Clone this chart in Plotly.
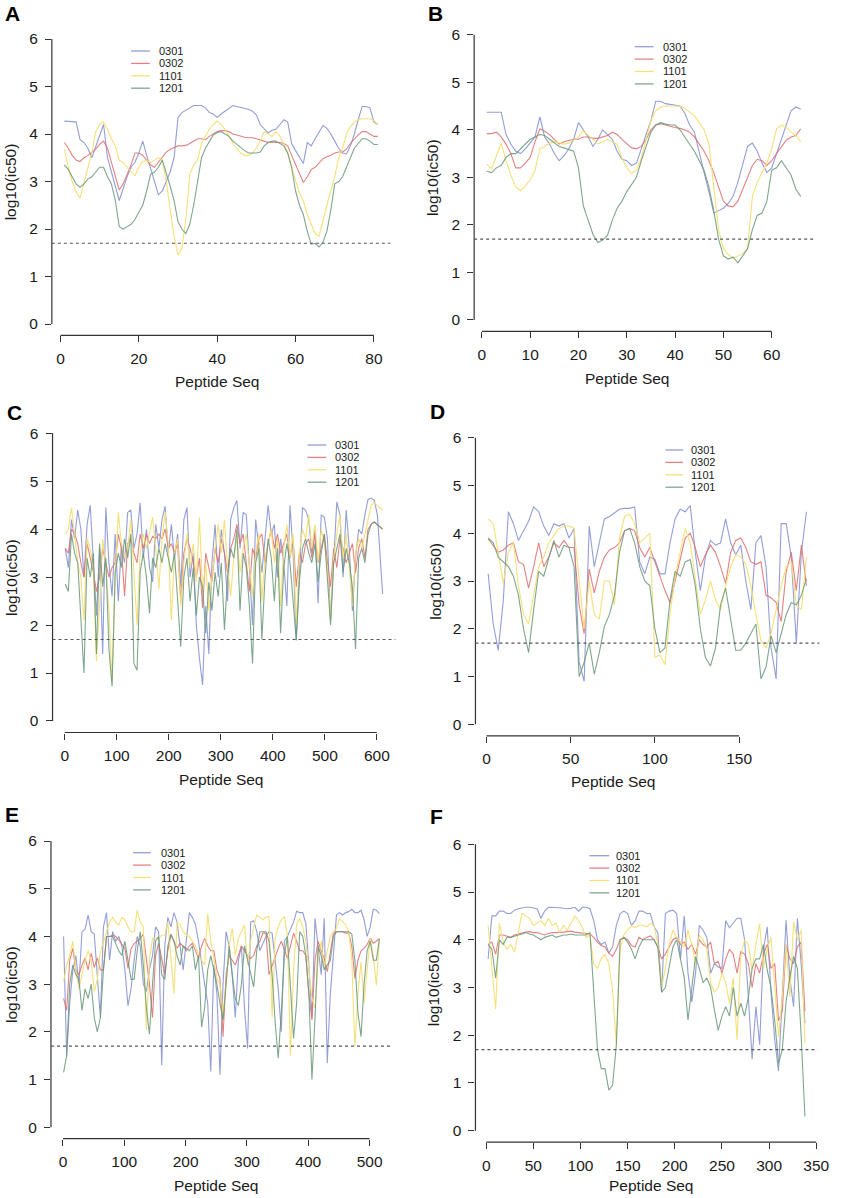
import plotly.graph_objects as go

PAGE_W, PAGE_H = 843, 1198
W, H = PAGE_W, PAGE_H
ALLELES = ["0301", "0302", "1101", "1201"]
LINE_COLORS = ["rgba(135,148,210,0.9)", "rgba(222,108,108,0.85)",
               "rgba(244,222,115,0.95)", "rgba(105,150,120,0.85)"]
FONT = "Liberation Sans, Arial, sans-serif"
THRESHOLD = 1.7  # log10(50)

# ---------------- Panel A ----------------
A_x = list(range(1, 82))
A_0301 = [4.27, 4.27, 4.26, 4.25, 3.88, 3.82, 3.7, 3.5, 3.75, 4.0,
          4.2, 3.5, 3.2, 2.9, 2.6, 2.85, 3.1, 3.3, 3.4, 3.6,
          3.85, 3.55, 3.3, 3.0, 2.72, 2.8, 3.0, 3.2, 3.5, 4.35,
          4.45, 4.5, 4.55, 4.6, 4.6, 4.6, 4.55, 4.45, 4.42, 4.35,
          4.42, 4.48, 4.55, 4.6, 4.58, 4.56, 4.55, 4.52, 4.48, 4.4,
          4.2, 4.1, 4.02, 4.08, 4.1, 4.2, 4.3, 4.25, 3.8, 3.65,
          3.5, 3.38, 3.82, 3.75, 3.9, 4.05, 4.18, 4.12, 4.0, 3.85,
          3.7, 3.6, 3.58, 3.75, 4.0, 4.3, 4.58, 4.58, 4.55, 4.25,
          4.2]
A_0302 = [3.82, 3.7, 3.55, 3.45, 3.42, 3.5, 3.55, 3.62, 3.68, 3.78,
          3.85, 3.7, 3.4, 3.1, 2.82, 2.95, 3.15, 3.35, 3.6, 3.6,
          3.55, 3.45, 3.35, 3.3, 3.4, 3.5, 3.62, 3.68, 3.72, 3.75,
          3.75, 3.76, 3.8, 3.85, 3.9, 3.9, 3.88, 3.95, 4.0, 4.05,
          4.07, 4.07, 4.05, 4.0, 3.98, 3.95, 3.93, 3.92, 3.92, 3.9,
          3.88, 3.85, 3.82, 3.83, 3.82, 3.82, 3.8, 3.75, 3.55, 3.35,
          3.15, 2.98, 3.1, 3.25, 3.3, 3.4, 3.48, 3.52, 3.55, 3.6,
          3.62, 3.62, 3.68, 3.8, 3.9, 3.98, 4.05, 4.05, 4.0, 3.95,
          3.95]
A_1101 = [3.68, 3.3, 3.0, 2.78, 2.65, 2.95, 3.25, 3.6, 4.05, 4.2,
          4.25, 4.1, 3.9, 3.75, 3.45, 3.4, 3.3, 3.2, 3.12, 3.3,
          3.42, 3.45, 3.4, 3.45, 3.5, 3.45, 3.0, 2.4, 1.85, 1.45,
          1.6, 2.2, 3.15, 3.35, 3.45, 3.8, 3.95, 4.1, 4.2, 4.28,
          4.2, 4.1, 3.95, 3.8, 3.7, 3.6, 3.55, 3.55, 3.6, 3.7,
          3.85, 4.05, 4.0, 3.95, 4.05, 3.95, 3.8, 3.6, 3.3, 3.0,
          2.75, 2.6, 2.3, 2.1, 1.9, 1.85, 2.2, 2.5, 2.8, 3.1,
          3.5, 3.7, 4.0, 4.15, 4.25, 4.3, 4.32, 4.32, 4.32, 4.28,
          4.2]
A_1201 = [3.35, 3.25, 3.1, 2.95, 2.88, 2.95, 3.05, 3.1, 3.2, 3.3,
          3.3, 3.1, 2.95, 2.6, 2.05, 2.0, 2.05, 2.1, 2.2, 2.35,
          2.5, 2.8, 3.15, 3.2, 3.3, 3.45, 3.2, 2.9, 2.6, 2.15,
          2.0, 1.9, 2.1, 2.5, 3.0, 3.5, 3.7, 3.85, 3.98, 4.03,
          4.05, 4.0, 3.95, 3.85, 3.78, 3.72, 3.65, 3.6, 3.6, 3.6,
          3.62, 3.75, 3.82, 3.85, 3.85, 3.8, 3.75, 3.6, 3.3, 2.8,
          2.5, 2.3, 1.95, 1.68, 1.7, 1.62, 1.72, 1.95, 2.4, 2.95,
          3.0, 3.1, 3.3, 3.5, 3.7, 3.8, 3.9, 3.9, 3.85, 3.78,
          3.78]

# ---------------- Panel B ----------------
B_x = list(range(1, 67))
B_0301 = [4.37, 4.37, 4.38, 4.37, 3.9, 3.7, 3.55, 3.5, 3.6, 3.72,
          3.85, 4.27, 3.85, 3.7, 3.5, 3.35, 3.45, 3.6, 3.8, 4.15,
          4.0, 3.85, 3.65, 3.8, 4.0, 3.9, 3.8, 3.55, 3.38, 3.35,
          3.25, 3.3, 3.6, 3.9, 4.2, 4.6, 4.6, 4.55, 4.53, 4.52,
          4.5, 4.35, 4.1, 3.95, 3.5, 3.1, 2.7, 2.25, 2.3, 2.35,
          2.45, 2.6, 2.9, 3.3, 3.65, 3.72, 3.55, 3.3, 3.1, 3.2,
          3.5, 3.8, 4.1, 4.4, 4.48, 4.43]
B_0302 = [3.92, 3.92, 3.95, 3.85, 3.7, 3.5, 3.2, 3.2, 3.3, 3.42,
          3.75, 4.02, 3.97, 3.9, 3.8, 3.7, 3.75, 3.78, 3.8, 3.8,
          3.85, 3.85, 3.82, 3.82, 3.85, 3.88, 3.95, 3.9, 3.8, 3.7,
          3.62, 3.6, 3.65, 3.8, 4.0, 4.1, 4.13, 4.1, 4.07, 4.05,
          4.03, 4.0, 3.95, 3.85, 3.7, 3.55, 3.35, 3.1, 2.8, 2.5,
          2.4, 2.38, 2.5, 2.75, 3.0, 3.25, 3.38, 3.35, 3.25, 3.35,
          3.5, 3.65, 3.78, 3.85, 3.88, 4.02]
B_1101 = [3.28, 3.18, 3.45, 3.72, 3.35, 3.05, 2.8, 2.72, 2.82, 2.95,
          3.15, 3.6, 3.65, 3.72, 3.75, 3.72, 3.7, 3.72, 3.78, 3.85,
          3.98, 3.9, 3.8, 3.7, 3.75, 3.8, 3.75, 3.7, 3.4, 3.2,
          3.08, 3.15, 3.4, 3.8, 4.2, 4.4, 4.48, 4.5, 4.5, 4.5,
          4.5, 4.45, 4.38, 4.3, 4.15, 4.0, 3.7, 2.8, 1.9, 1.5,
          1.38, 1.3, 1.35, 1.4, 1.5, 2.6, 2.9, 3.1, 3.3, 3.6,
          4.02, 4.1, 4.05, 3.95, 3.88, 3.75]
B_1201 = [3.13, 3.1, 3.2, 3.25, 3.42, 3.5, 3.5, 3.6, 3.7, 3.8,
          3.85, 3.9, 3.88, 3.8, 3.72, 3.65, 3.62, 3.58, 3.55, 3.2,
          2.4, 2.1, 1.8, 1.63, 1.68, 1.78, 2.1, 2.35, 2.5, 2.7,
          2.85, 3.0, 3.35, 3.65, 3.95, 4.1, 4.15, 4.12, 4.1, 4.1,
          4.0, 3.85, 3.7, 3.55, 3.35, 3.15, 2.8, 2.3, 1.7, 1.35,
          1.28, 1.32, 1.2, 1.35, 1.5, 1.9, 2.2, 2.25, 2.5, 3.15,
          3.2, 3.35, 3.2, 3.05, 2.75, 2.6]

# ---------------- Panel C ----------------
C_x = list(range(1, 608, 6)) + [611]
C_0301 = [3.6, 3.2, 4.2, 3.8, 4.4, 4.0, 3.0, 4.1, 4.5, 3.4,
          2.2, 3.6, 1.4, 4.45, 3.3, 2.6, 3.9, 2.5, 3.7, 3.3,
          4.35, 4.4, 3.6, 3.9, 4.55, 3.4, 4.0, 3.2, 2.9, 4.1,
          3.6, 4.2, 4.48, 3.5, 4.1, 3.4, 3.9, 2.8, 4.2, 4.45,
          3.0, 3.5, 2.0, 1.3, 0.75, 2.4, 1.4, 3.3, 4.1, 3.0,
          4.0, 3.5, 2.5, 4.2, 4.45, 4.6, 3.6, 4.35, 4.3, 3.2,
          2.0, 4.2, 3.7, 3.1, 3.8, 4.5, 3.9, 4.1, 3.0, 3.8,
          3.3, 2.4, 4.5, 3.5, 1.68, 3.1, 4.45, 4.4, 4.2, 3.5,
          4.0, 2.45, 4.3, 4.25, 3.8, 2.1, 3.5, 4.57, 4.3, 3.0,
          4.4, 3.6, 2.3, 3.4, 4.0, 3.9, 4.3, 4.62, 4.65, 4.6,
          4.3, 3.4, 2.65]
C_0302 = [3.6, 3.5, 4.0, 3.9, 3.7, 3.3, 3.0, 3.7, 3.4, 3.1,
          2.7, 3.0, 3.6, 3.3, 3.0, 3.2, 3.3, 3.9, 3.6, 2.6,
          3.7, 3.8, 3.5, 3.3, 3.9, 3.6, 3.9, 3.7, 3.85, 3.8,
          3.9, 3.8, 4.0, 3.6, 3.7, 3.5, 3.7, 2.5, 3.5, 3.8,
          3.6, 3.3, 3.0, 3.4, 2.35, 3.5, 3.2, 2.9, 3.6, 3.3,
          3.8, 3.5, 3.1, 3.6, 3.8, 4.1, 3.7, 3.9, 3.3, 2.7,
          3.6, 3.4, 3.8, 3.9, 3.3, 3.7, 4.0, 3.6, 3.9, 3.5,
          3.7, 3.9, 3.4, 3.8, 2.8, 3.5, 3.3, 3.7, 3.8, 3.4,
          3.9, 3.3, 3.6, 3.9, 3.3, 2.8, 3.6, 3.2, 3.8, 3.6,
          3.3, 3.5, 3.7, 3.1, 3.6, 3.8, 3.4, 4.0, 4.1, 4.15,
          4.1, 4.05, 4.0]
C_1101 = [3.9, 4.0, 4.45, 3.8, 3.3, 3.0, 2.1, 3.8, 3.6, 3.2,
          1.25, 2.4, 3.8, 3.2, 2.3, 0.8, 3.0, 4.35, 3.7, 3.4,
          3.6, 4.2, 3.0, 2.0, 3.5, 3.9, 3.6, 3.9, 4.25, 3.6,
          2.75, 3.8, 4.35, 3.7, 2.1, 3.5, 3.8, 2.4, 3.3, 3.9,
          3.2, 3.7, 2.9, 4.25, 2.7, 3.3, 2.3, 3.0, 3.6, 4.1,
          3.5, 4.2, 3.2, 2.6, 3.4, 3.8, 3.1, 3.6, 3.9, 3.3,
          2.6, 3.5, 3.9, 2.5, 3.4, 3.7, 4.0, 3.3, 3.8, 2.4,
          3.6, 4.1, 3.4, 3.9, 2.0, 3.5, 4.0, 3.8, 4.3, 3.6,
          4.1, 3.3, 4.0, 3.7, 3.2, 2.1, 3.4, 3.9, 4.3, 3.4,
          3.9, 3.2, 2.4, 3.5, 3.8, 3.6, 3.9, 4.2, 4.5, 4.55,
          4.5, 4.45, 4.4]
C_1201 = [2.85, 2.7, 3.9, 3.5, 3.3, 2.2, 1.0, 3.4, 3.0, 3.5,
          1.4, 3.7, 2.8, 3.4, 1.5, 0.72, 3.1, 3.5, 3.2, 3.8,
          3.4, 3.9, 1.2, 1.06, 3.1, 3.5, 3.0, 2.25, 3.4, 3.2,
          3.6, 3.3, 3.7, 3.4, 3.1, 3.5, 2.6, 1.55, 3.0, 3.4,
          2.5, 3.2, 2.2, 3.0, 2.8, 1.83, 2.9, 2.3, 3.1, 2.6,
          3.3, 1.9, 3.0, 3.6, 3.4, 4.0, 2.3, 3.5, 3.2, 2.4,
          1.2, 3.3, 3.6, 1.7, 3.0, 3.8, 3.4, 2.5, 3.6, 1.83,
          3.2, 3.7, 3.3, 2.4, 1.69, 2.9, 3.6, 3.8, 3.5, 3.3,
          3.7, 2.9, 3.5, 3.9, 3.0, 2.0, 3.3, 3.6, 3.9, 3.1,
          3.6, 3.3, 2.8, 1.5, 3.4, 3.6, 3.3, 3.9, 4.1, 4.15,
          4.1, 4.05, 4.0]

# ---------------- Panel D ----------------
D_x = list(range(1, 191, 3))
D_0301 = [3.15, 2.1, 1.55, 2.6, 4.45, 4.2, 3.85, 4.05, 4.25, 4.55,
          4.45, 4.15, 3.95, 4.2, 4.15, 4.2, 3.9, 4.1, 1.3, 0.9,
          4.15, 3.3, 3.8, 4.3, 4.35, 4.42, 4.5, 4.52, 4.52, 4.55,
          3.4, 3.15, 3.5, 3.45, 3.15, 3.15, 3.8, 4.3, 4.5, 4.45,
          4.58, 3.6, 2.8, 3.5, 3.85, 3.75, 3.8, 4.3, 3.8, 3.55,
          3.75, 3.0, 2.4, 3.8, 3.95, 3.3, 1.6, 0.95, 4.2, 4.2,
          3.5, 1.7, 3.6, 4.45]
D_0302 = [3.88, 3.75, 3.6, 3.65, 3.75, 3.8, 3.4, 3.35, 2.85, 3.3,
          3.8, 3.3, 3.5, 3.8, 3.7, 3.85, 3.7, 3.7, 2.5, 1.9,
          3.25, 2.75, 3.2, 3.5, 3.65, 3.7, 3.8, 4.05, 4.1, 4.05,
          3.7, 3.5, 3.7, 3.4, 3.1, 2.8, 2.55, 3.0, 3.5, 3.9,
          4.0, 3.7, 3.3, 3.55, 3.75, 3.6, 3.3, 2.95, 3.6, 3.85,
          3.9, 3.7, 3.4, 3.35, 3.4, 2.7, 2.65, 2.55, 2.15, 3.2,
          3.6, 2.8, 3.75, 2.9]
D_1101 = [4.3, 4.2, 3.6, 2.95, 3.6, 3.8, 2.9, 2.3, 2.1, 2.7,
          3.3, 3.5, 3.8, 3.95, 4.1, 4.15, 4.15, 4.1, 3.0, 2.0,
          3.0, 2.3, 2.2, 3.0, 3.0, 2.5, 3.9, 4.35, 4.4, 4.2,
          3.8, 3.9, 4.0, 1.4, 1.45, 1.25, 2.3, 3.1, 3.6, 4.1,
          3.8, 3.0, 2.3, 2.6, 3.0, 2.6, 2.4, 2.9, 3.3, 3.55,
          3.5, 3.35, 2.9, 2.3, 1.75, 1.6, 1.9, 2.4, 2.9, 3.3,
          3.4, 2.5, 2.4, 3.5]
D_1201 = [3.9, 3.8, 3.5, 3.4, 3.3, 3.1, 2.7, 2.0, 1.5, 2.4,
          3.2, 3.1, 3.5, 3.85, 3.5, 3.75, 3.7, 3.3, 1.0, 1.3,
          1.7, 1.05, 1.5, 2.05, 2.3, 2.7, 3.6, 4.05, 4.1, 3.8,
          3.3, 3.0, 2.9, 2.0, 1.5, 1.6, 2.6, 3.2, 3.1, 3.4,
          3.45, 2.9, 2.0, 1.4, 1.22, 1.6, 2.5, 2.85, 2.2, 1.55,
          1.55, 1.7, 1.9, 2.1, 0.95, 1.2, 1.85, 1.5, 1.9, 2.3,
          2.55, 2.5, 2.7, 3.05]

# ---------------- Panel E ----------------
E_x = list(range(1, 517, 5))
E_0301 = [4.0, 1.5, 2.6, 3.3, 3.6, 3.0, 4.1, 4.15, 4.45, 4.1,
          4.05, 3.2, 2.3, 4.2, 4.5, 3.5, 4.1, 3.9, 4.0, 3.8,
          3.3, 2.55, 2.9, 3.5, 4.0, 3.8, 3.0, 2.85, 3.3, 3.6,
          4.2, 4.1, 1.3, 3.8, 4.4, 4.2, 4.5, 4.3, 3.8, 3.3,
          3.9, 4.5, 4.4, 4.25, 3.9, 3.4, 3.0, 2.6, 1.17, 3.4,
          2.8, 1.1, 3.0, 4.1, 3.8, 3.2, 2.3, 3.5, 3.8, 2.5,
          1.65, 4.3, 4.33, 4.1, 3.7, 3.85, 4.0, 4.1, 4.07, 3.5,
          2.9, 2.0, 3.9, 4.0, 4.17, 4.3, 4.53, 4.5, 4.5, 4.27,
          3.4, 2.3, 4.38, 3.8, 3.2, 4.38, 1.34, 2.8, 3.6, 4.45,
          4.5, 4.45, 4.5, 4.52, 4.57, 4.5, 4.5, 4.55, 4.35, 4.0,
          4.2, 4.57, 4.55, 4.48]
E_0302 = [2.7, 2.45, 3.5, 3.75, 3.3, 3.2, 3.4, 3.55, 3.3, 3.65,
          3.35, 3.55, 3.3, 3.3, 4.0, 4.0, 4.03, 4.0, 3.93, 3.85,
          3.75, 3.33, 3.75, 3.85, 3.9, 3.95, 4.05, 3.55, 3.0, 2.3,
          3.6, 3.86, 3.5, 3.2, 3.7, 4.03, 3.9, 3.75, 3.86, 3.8,
          3.7, 3.8, 3.86, 3.7, 3.54, 3.8, 3.96, 3.8, 3.7, 3.7,
          3.3, 3.12, 1.9, 3.2, 3.6, 3.5, 3.4, 3.6, 3.8, 3.7,
          3.6, 3.54, 3.6, 3.8, 3.9, 4.07, 4.07, 3.2, 3.4, 3.6,
          3.75, 3.9, 3.7, 3.54, 3.8, 4.07, 3.9, 3.7, 3.7, 3.6,
          2.8, 2.25, 3.5, 3.9, 3.7, 3.54, 3.26, 3.7, 4.07, 4.1,
          4.1, 4.1, 4.07, 4.07, 3.8, 3.12, 3.5, 3.7, 3.75, 3.83,
          3.96, 3.86, 3.9, 3.96]
E_1101 = [3.05, 3.4, 3.6, 3.9, 3.3, 2.9, 3.2, 3.5, 3.7, 3.5,
          2.85, 3.1, 3.68, 3.9, 4.1, 4.3, 4.4, 4.3, 4.24, 4.4,
          4.35, 4.2, 4.1, 4.1, 4.55, 4.3, 4.2, 2.04, 3.5, 3.96,
          3.96, 3.96, 4.03, 4.03, 4.3, 3.5, 2.8, 4.3, 4.25, 4.1,
          4.03, 4.0, 3.9, 3.8, 3.6, 3.5, 3.4, 4.48, 3.9, 3.54,
          3.1, 3.0, 2.4, 3.0, 3.8, 4.17, 3.6, 3.96, 4.1, 4.24,
          3.4, 3.9, 4.2, 4.45, 4.4, 4.35, 4.4, 4.42, 2.3, 3.96,
          4.2, 4.35, 4.42, 4.0, 1.5, 3.3, 4.24, 4.38, 4.2, 3.9,
          3.3, 2.7, 2.5, 3.5, 3.9, 3.33, 3.7, 4.0, 4.1, 4.17,
          4.38, 4.3, 4.24, 4.1, 3.5, 1.7, 2.8, 3.47, 2.6, 3.3,
          3.96, 3.6, 2.98, 3.96]
E_1201 = [1.15, 1.5, 3.0, 3.4, 3.2, 3.1, 2.45, 2.9, 2.7, 3.0,
          2.3, 2.0, 2.3, 3.3, 4.0, 4.0, 4.0, 3.85, 3.7, 3.6,
          3.9, 3.5, 3.1, 3.1, 3.7, 4.1, 3.4, 2.5, 1.95, 3.0,
          3.9, 4.0, 3.2, 3.1, 3.8, 4.05, 3.9, 3.6, 3.4, 3.8,
          3.75, 3.7, 3.8, 3.3, 3.6, 2.1, 2.5, 3.3, 3.6, 3.3,
          3.0, 2.6, 2.25, 3.0, 3.8, 3.2, 2.7, 2.55, 3.0, 3.8,
          3.5, 3.2, 2.94, 3.7, 4.1, 4.1, 4.1, 3.9, 3.2, 2.2,
          1.45, 2.4, 3.6, 4.0, 3.0, 1.86, 2.6, 4.1, 4.0, 3.6,
          2.8, 1.0, 2.3, 3.8, 3.6, 3.3, 3.4, 3.5, 4.0, 4.1,
          4.1, 4.1, 4.1, 4.1, 4.05, 3.5, 2.4, 1.9, 3.0, 3.7,
          3.9, 3.5, 3.5, 3.95]

# ---------------- Panel F ----------------
F_x = list(range(2, 339, 4))
F_0301 = [3.6, 4.5, 4.5, 4.6, 4.6, 4.55, 4.55, 4.62, 4.65, 4.67,
          4.68, 4.68, 4.66, 4.65, 4.45, 4.6, 4.68, 4.68, 4.67, 4.67,
          4.66, 4.65, 4.66, 4.68, 4.6, 4.68, 4.68, 4.65, 4.4, 4.0,
          3.9, 3.95, 3.72, 3.85, 4.3, 4.55, 4.6, 4.55, 4.3, 4.4,
          4.6, 4.6, 4.55, 4.55, 4.27, 4.15, 2.9, 4.55, 4.6, 4.62,
          4.55, 3.6, 4.5, 3.3, 2.7, 3.3, 4.3, 4.2, 4.05, 3.3,
          3.5, 3.43, 3.4, 4.4, 4.25, 4.35, 4.45, 4.45, 4.0, 2.8,
          1.5, 2.6, 1.8, 3.8, 4.27, 2.9, 1.9, 1.25, 2.9, 4.41,
          3.2, 2.6, 4.45, 3.5, 2.25]
F_0302 = [3.9, 3.95, 3.7, 4.1, 4.1, 4.08, 4.05, 4.1, 4.12, 4.15,
          4.16, 4.17, 4.15, 4.15, 4.12, 4.1, 4.13, 4.15, 4.15, 4.15,
          4.16, 4.17, 4.18, 4.16, 4.15, 4.15, 4.13, 4.12, 4.05, 3.95,
          3.88, 3.85, 3.72, 3.65, 3.8, 4.0, 4.05, 4.0, 3.88, 3.85,
          4.05, 4.0, 4.05, 4.08, 4.0, 3.85, 3.6, 3.7, 3.85, 4.0,
          4.05, 3.9, 3.95, 3.8, 3.9, 3.7, 4.0, 3.9, 3.85, 3.95,
          3.5, 3.55, 3.3, 3.6, 3.8, 3.7, 3.3, 3.75, 3.7, 3.5,
          3.0, 3.5, 3.3, 3.7, 3.9, 3.4, 3.5, 2.3, 2.5, 3.9,
          3.6, 3.5, 3.85, 3.95, 2.5]
F_1101 = [4.3, 3.4, 2.55, 4.35, 3.95, 3.8, 3.9, 3.75, 4.15, 4.55,
          4.5, 4.45, 4.3, 4.35, 4.4, 4.3, 4.45, 4.3, 4.35, 4.15,
          4.3, 4.2, 4.35, 4.5, 4.4, 4.25, 4.05, 4.1, 3.5, 3.4,
          3.6, 3.7, 3.5, 2.95, 1.8, 3.8, 4.1, 4.2, 4.3, 4.25,
          4.3, 4.3, 4.27, 4.34, 4.3, 3.9, 3.0, 3.4, 3.9, 4.2,
          4.05, 3.95, 3.85, 4.2, 3.9, 3.5, 4.1, 4.0, 3.8, 3.1,
          2.9, 3.0, 3.3, 3.1, 2.67, 3.2, 1.9, 3.65, 4.0, 3.9,
          3.37, 3.9, 4.34, 3.4, 3.8, 4.05, 3.0, 1.97, 2.8, 3.92,
          2.8, 4.38, 4.0, 4.2, 1.83]
F_1201 = [3.9, 3.8, 3.2, 4.0, 3.9, 4.05, 4.05, 4.08, 4.1, 4.12,
          4.15, 4.12, 4.1, 4.05, 4.0, 4.05, 4.08, 4.1, 4.05, 4.08,
          4.1, 4.1, 4.12, 4.1, 4.1, 4.1, 4.1, 4.15, 3.0, 1.7,
          1.3, 1.3, 0.85, 0.95, 1.8, 4.0, 4.05, 3.95, 3.8, 3.6,
          3.85, 4.0, 4.0, 4.0, 4.0, 3.85, 2.9, 3.0, 3.4, 3.85,
          4.0, 3.57, 3.2, 2.32, 3.0, 3.65, 3.4, 3.1, 3.2, 3.0,
          2.53, 2.1, 2.4, 2.6, 2.4, 3.0, 2.4, 2.67, 2.4, 2.8,
          3.4, 3.6, 3.6, 3.9, 3.37, 3.0, 2.3, 1.41, 1.7, 2.7,
          3.2, 3.65, 3.4, 2.0, 0.3]

Y_TICKS = [0, 1, 2, 3, 4, 5, 6]
A_xticks = [0, 20, 40, 60, 80]
B_xticks = [0, 10, 20, 30, 40, 50, 60]
C_xticks = [0, 100, 200, 300, 400, 500, 600]
D_xticks = [0, 50, 100, 150]
E_xticks = [0, 100, 200, 300, 400, 500]
F_xticks = [0, 50, 100, 150, 200, 250, 300, 350]

# Layout geometry in page pixels (kept apart from the data)
panels = [
    dict(label="A", x=A_x, ys=[A_0301, A_0302, A_1101, A_1201], xt=A_xticks,
         box=(52.6, 27.6, 396.0, 335.4), lab=(4, 14), ytx=11, xty=381,
         leg=(133, 152, 160, 51)),
    dict(label="B", x=B_x, ys=[B_0301, B_0302, B_1101, B_1201], xt=B_xticks,
         box=(481.0, 23.3, 825.0, 331.4), lab=(433, 14), ytx=439, xty=378,
         leg=(644, 663, 672, 46.7)),
    dict(label="C", x=C_x, ys=[C_0301, C_0302, C_1101, C_1201], xt=C_xticks,
         box=(53.3, 421.8, 401.0, 732.5), lab=(6, 413), ytx=11, xty=780,
         leg=(312, 331, 339, 445)),
    dict(label="D", x=D_x, ys=[D_0301, D_0302, D_1101, D_1201], xt=D_xticks,
         box=(482.3, 426.2, 831.0, 735.8), lab=(435, 412), ytx=441, xty=782,
         leg=(675, 693, 700, 450)),
    dict(label="E", x=E_x, ys=[E_0301, E_0302, E_1101, E_1201], xt=E_xticks,
         box=(51.7, 829.6, 397.7, 1138.7), lab=(4, 815), ytx=11, xty=1185,
         leg=(135, 153, 162, 852.7)),
    dict(label="F", x=F_x, ys=[F_0301, F_0302, F_1101, F_1201], xt=F_xticks,
         box=(482.3, 832.8, 829.4, 1142.2), lab=(435, 816), ytx=440, xty=1185,
         leg=(598, 618, 624, 855.7)),
]
LEG_STEP = 12.4


def fx(px):
    return px / W


def fy(py):
    return 1 - py / H


fig = go.Figure()
layout = dict(width=W, height=H, margin=dict(l=0, r=0, t=0, b=0),
              paper_bgcolor="white", plot_bgcolor="white",
              font=dict(family=FONT, color="#1a1a1a"), showlegend=False)
shapes, annots = [], []
TICKFONT = dict(family=FONT, size=15.5, color="#1a1a1a")

for k, p in enumerate(panels):
    n = "" if k == 0 else str(k + 1)
    xa, ya = "x" + n, "y" + n
    for name, ys, col in zip(ALLELES, p["ys"], LINE_COLORS):
        fig.add_trace(go.Scatter(x=p["x"], y=ys, mode="lines", name=name,
                                 line=dict(color=col, width=1.1),
                                 xaxis=xa, yaxis=ya, showlegend=False,
                                 hoverinfo="skip"))
    x0, y0, x1, y1 = p["box"]
    xmin, xmax = min(p["x"]), max(p["x"])
    pad = 0.04 * (xmax - xmin)
    layout["xaxis" + n] = dict(domain=[fx(x0), fx(x1)], range=[xmin - pad, xmax + pad],
                               anchor=ya, tickmode="array", tickvals=p["xt"],
                               ticks="outside", ticklen=6, tickwidth=1, tickcolor="#333",
                               showgrid=False, zeroline=False, showline=False,
                               tickfont=TICKFONT, ticklabelstandoff=3)
    layout["yaxis" + n] = dict(domain=[fy(y1), fy(y0)], range=[-0.24, 6.24],
                               anchor=xa, tickmode="array", tickvals=Y_TICKS,
                               ticks="outside", ticklen=6, tickwidth=1, tickcolor="#333",
                               showgrid=False, zeroline=False, showline=False,
                               tickfont=TICKFONT, ticklabelstandoff=4)
    # R-style detached axis lines
    shapes.append(dict(type="line", xref=xa + " domain", yref=ya, x0=0, x1=0, y0=0, y1=6,
                       line=dict(color="#333", width=1.2)))
    shapes.append(dict(type="line", xref=xa, yref=ya + " domain", x0=p["xt"][0], x1=p["xt"][-1],
                       y0=0, y1=0, line=dict(color="#333", width=1.2)))
    # threshold line
    shapes.append(dict(type="line", xref=xa + " domain", yref=ya, x0=0, x1=1,
                       y0=THRESHOLD, y1=THRESHOLD,
                       line=dict(color="#555", width=1.2, dash="3px,3px")))
    # legend (R style: short line + label, no box)
    lx0, lx1, tx, ry0 = p["leg"]
    for j, (name, col) in enumerate(zip(ALLELES, LINE_COLORS)):
        ry = ry0 + j * LEG_STEP
        shapes.append(dict(type="line", xref="paper", yref="paper",
                           x0=fx(lx0), x1=fx(lx1), y0=fy(ry), y1=fy(ry),
                           line=dict(color=col, width=1.3)))
        annots.append(dict(text=name, xref="paper", yref="paper", x=fx(tx), y=fy(ry),
                           xanchor="left", yanchor="middle", showarrow=False, borderpad=0,
                           font=dict(family=FONT, size=11, color="#1a1a1a")))
    # panel label
    lxp, lyp = p["lab"]
    annots.append(dict(text="<b>" + p["label"] + "</b>", xref="paper", yref="paper",
                       x=fx(lxp), y=fy(lyp), xanchor="left", yanchor="middle",
                       showarrow=False, borderpad=0,
                       font=dict(family=FONT, size=21, color="#000")))
    # axis titles
    annots.append(dict(text="log10(ic50)", xref="paper", yref=ya, x=fx(p["ytx"]), y=3,
                       xanchor="center", yanchor="middle", textangle=-90, showarrow=False,
                       borderpad=0, font=dict(family=FONT, size=15.5, color="#1a1a1a")))
    annots.append(dict(text="Peptide Seq", xref=xa, yref="paper",
                       x=(p["xt"][0] + p["xt"][-1]) / 2, y=fy(p["xty"]),
                       xanchor="center", yanchor="middle", showarrow=False, borderpad=0,
                       font=dict(family=FONT, size=15.5, color="#1a1a1a")))

layout["shapes"] = shapes
layout["annotations"] = annots
fig.update_layout(**layout)
# The page's default 8px body margin would push the figure off the window; remove it.
fig.write_html("out.html", config={"displayModeBar": False},
               post_script="document.body.style.margin='0px';")
